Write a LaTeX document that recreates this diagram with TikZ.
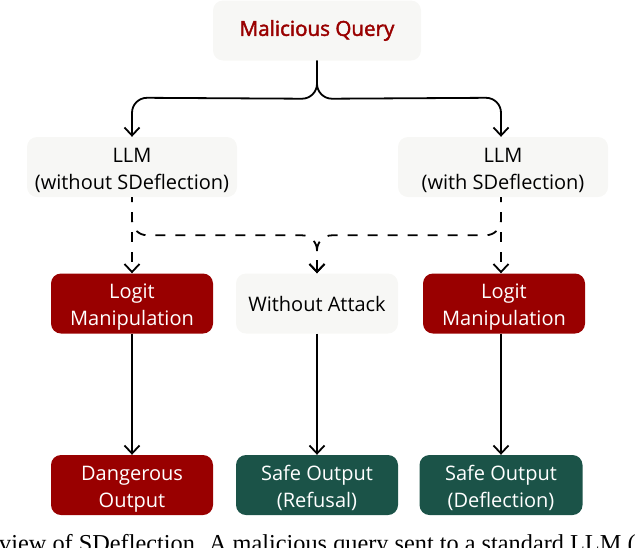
\documentclass[tikz,border=0pt]{standalone}
\usepackage{fontspec}
\setmainfont{Open Sans}
\newfontfamily\captionserif{Liberation Serif}
\newfontfamily\queryfont[FakeBold=2]{Open Sans}
\usetikzlibrary{calc,positioning,arrows.meta}
\definecolor{softgrey}{HTML}{F7F7F5}
\definecolor{darkred}{HTML}{990000}
\definecolor{darkgreen}{HTML}{1B5348}
\tikzstyle{softbox}  = [rectangle, rounded corners=10pt, fill=softgrey, text=black, align=center, minimum height=60pt, inner sep=0pt, font=\fontsize{20}{27}\selectfont]
\tikzstyle{twoline}  = [softbox, text height=50pt, text depth=6pt]
\tikzstyle{redbox}   = [twoline, fill=darkred, text=white]
\tikzstyle{greenbox} = [twoline, fill=darkgreen, text=white]
\tikzstyle{arrow}    = [line width=1.8pt,-{Straight Barb[length=8pt,width=15pt,line width=1.8pt]}]
\tikzstyle{dasharrow} = [arrow,dash pattern=on 10pt off 10pt,dash phase=5pt]

\begin{document}
\begin{tikzpicture}[x=1pt,y=1pt,on grid]
		\useasboundingbox (0,0) rectangle (640,-547);
		\node[softbox,minimum width=208pt,text=darkred,font=\fontsize{20.6}{27}\queryfont] (query) at (317,-30.5) {Malicious Query};

		\node[twoline,minimum width=210pt,below left=136.5pt and 185pt of query] (llmL) {LLM\\(without SDeflection)};
		\node[twoline,minimum width=210pt,below right=136.5pt and 186pt of query] (llmR) {LLM\\(with SDeflection)};

		\node[redbox,minimum width=162pt,below=136.5pt of llmL] (logitL) {Logit\\Manipulation};
		\node[softbox,minimum width=162pt,below=273pt of query] (clean) {Without Attack};
		\node[redbox,minimum width=162pt,below=136.5pt of llmR,xshift=1pt] (logitR) {Logit\\Manipulation};

		\node[redbox,minimum width=162pt,below=181.5pt of logitL] (outL) {Dangerous\\Output};
		\node[greenbox,minimum width=162pt,below=181.5pt of clean] (outM) {Safe Output\\(Refusal)};
		\node[greenbox,minimum width=163pt,below=181.5pt of logitR,xshift=-3pt] (outR) {Safe Output\\(Deflection)};

		% top fork
		\coordinate (fork) at ($(query.south)+(0,-23)$);
		\draw[arrow] (query.south) -- (fork) to[out=-90,in=0] ($(fork)+(-15,-15)$) -- ($(llmL.north)+(15,39)$) to[out=180,in=90] ($(llmL.north)+(0,24)$) -- (llmL.north);
		\draw[arrow] (query.south) -- (fork) to[out=-90,in=180] ($(fork)+(15,-15)$) -- ($(llmR.north -| outR)+(-15,39)$) to[out=0,in=90] ($(llmR.north -| outR)+(0,24)$) -- (llmR.north -| outR);

		% dashed fork
		\coordinate (dfork) at ($(clean.north)+(0,23)$);
		\draw[dasharrow] (llmL.south) -- (logitL.north);
		\draw[dasharrow] (llmR.south -| outR) -- (logitR.north -| outR);
		\draw[dasharrow] (llmL.south) -- ($(llmL.south)+(0,-23)$) to[out=-90,in=180] ($(llmL.south)+(15,-38)$) -- ($(dfork)+(-15,15)$) to[out=0,in=90] (dfork) -- (clean.north);
		\draw[dasharrow] (llmR.south -| outR) -- ($(llmR.south -| outR)+(0,-23)$) to[out=-90,in=0] ($(llmR.south -| outR)+(-15,-38)$) -- ($(dfork)+(15,15)$) to[out=180,in=90] (dfork) -- (clean.north);

		% lower arrows
		\draw[arrow] (logitL) -- (outL);
		\draw[arrow] (clean) -- (outM);
		\draw[arrow] (logitR.south -| outR) -- (outR);

		\begin{scope}
			\clip (0,0) rectangle (640,-547);
			\node[anchor=base west,inner sep=0pt,font=\captionserif\fontsize{24.3}{28}\selectfont] (caption) at (-1,-551) {view of SDeflection. A malicious query sent to a standard LLM (};
		\end{scope}
	\end{tikzpicture}
\end{document}
